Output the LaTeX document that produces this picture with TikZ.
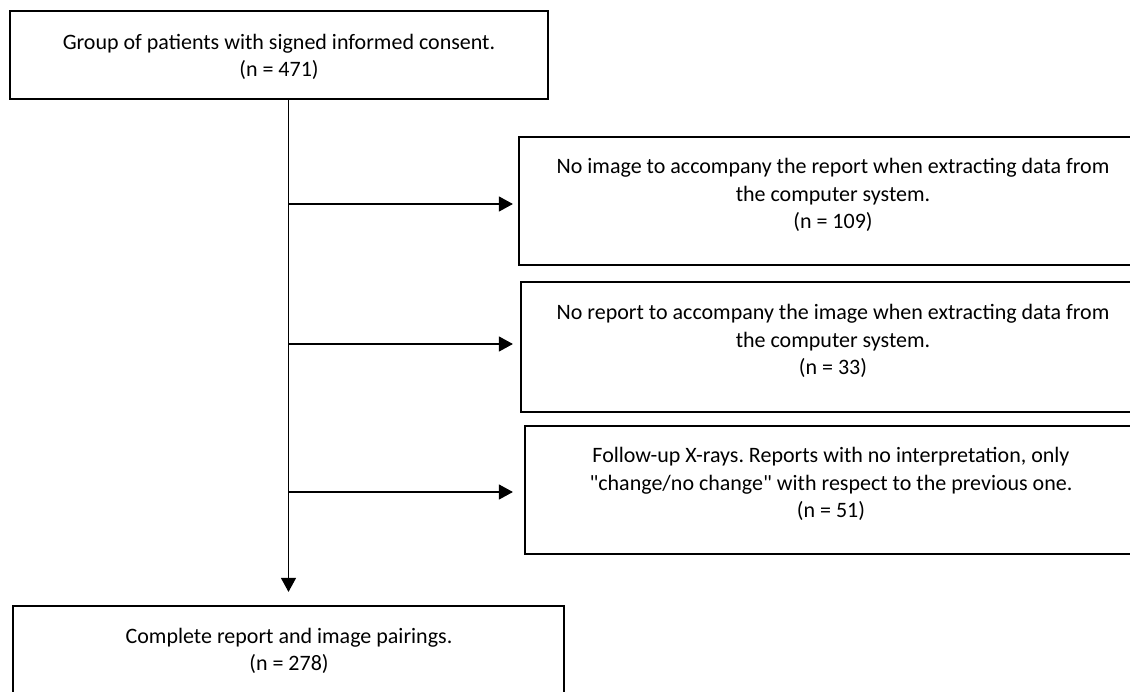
\documentclass[tikz,border=0pt]{standalone}
\usepackage{fontspec}
\setmainfont{Carlito}[Ligatures=TeXOff]
\usetikzlibrary{arrows.meta}
\frenchspacing
\begin{document}
\begin{tikzpicture}[x=1pt,y=-1pt,
  box/.style={draw=black,line width=2.2pt,inner sep=0pt,fill=white},
  txt/.style={align=center,font=\fontsize{22}{27.5}\selectfont\frenchspacing,inner sep=0pt},
  conn/.style={draw=black,line width=1.2pt},
  arr/.style={conn,-{Triangle[length=14pt,width=15pt]}}]
\clip (0,0) rectangle (1130,691);
\fill[white] (0,0) rectangle (1130,691);
% boxes
\node[box,minimum width=538pt,minimum height=88pt] (top) at (279,55) {};
\node[box,minimum width=628pt,minimum height=128pt] (b1) at (833,201) {};
\node[box,minimum width=624pt,minimum height=130pt] (b2) at (833,347) {};
\node[box,minimum width=612pt,minimum height=128pt] (b3) at (831,490) {};
\node[box,minimum width=551pt,minimum height=120pt] (bot) at (288.5,666) {};
% texts
\node[txt] (ttop) at (279,57) {Group of patients with signed informed consent.\\(n = 471)};
\node[txt] (t1) at (833,195) {No image to accompany the report when extracting data from\\the computer system.\\(n = 109)};
\node[txt] (t2) at (833,341) {No report to accompany the image when extracting data from\\the computer system.\\(n = 33)};
\node[txt] (t3) at (831,484) {Follow-up X-rays. Reports with no interpretation, only\\"change/no change" with respect to the previous one.\\(n = 51)};
\node[txt] (tbot) at (289,651) {Complete report and image pairings.\\(n = 278)};
% junctions
\coordinate (j1) at (289,204);
\coordinate (j2) at (289,344);
\coordinate (j3) at (289,492);
% connectors
\draw[arr,shorten >=13pt] (top.south -| bot.north) -- (bot.north);
\draw[arr,shorten >=5pt] (j1) -- (j1 -| b1.west);
\draw[arr,shorten >=7pt] (j2) -- (j2 -| b2.west);
\draw[arr,shorten >=11pt] (j3) -- (j3 -| b3.west);
\end{tikzpicture}
\end{document}
